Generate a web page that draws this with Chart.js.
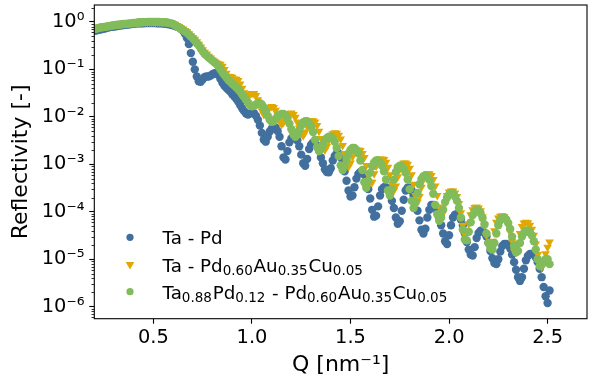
<!DOCTYPE html>
<html>
<head>
<meta charset="utf-8">
<script src="https://cdn.jsdelivr.net/npm/chart.js@4.4.0/dist/chart.umd.min.js"></script>
<style>
  html, body { margin: 0; padding: 0; background: #fff; overflow: hidden; }
  #wrap { width: 589px; height: 386px; overflow: hidden; }
</style>
</head>
<body>
<div id="wrap"><canvas id="xrr" width="592" height="386"></canvas></div>
<script>
// X-ray reflectivity (same Q grid for all samples)
const q = [
  0.20, 0.21, 0.22, 0.23, 0.24, 0.25, 0.26, 0.27, 0.28, 0.29,
  0.30, 0.31, 0.32, 0.33, 0.34, 0.35, 0.36, 0.37, 0.38, 0.39,
  0.40, 0.41, 0.42, 0.43, 0.44, 0.45, 0.46, 0.47, 0.48, 0.49,
  0.50, 0.51, 0.52, 0.53, 0.54, 0.55, 0.56, 0.57, 0.58, 0.59,
  0.60, 0.61, 0.62, 0.63, 0.64, 0.65, 0.66, 0.67, 0.68, 0.69,
  0.70, 0.71, 0.72, 0.73, 0.74, 0.75, 0.76, 0.77, 0.78, 0.79,
  0.80, 0.81, 0.82, 0.83, 0.84, 0.85, 0.86, 0.87, 0.88, 0.89,
  0.90, 0.91, 0.92, 0.93, 0.94, 0.95, 0.96, 0.97, 0.98, 0.99,
  1.00, 1.01, 1.02, 1.03, 1.04, 1.05, 1.06, 1.07, 1.08, 1.09,
  1.10, 1.11, 1.12, 1.13, 1.14, 1.15, 1.16, 1.17, 1.18, 1.19,
  1.20, 1.21, 1.22, 1.23, 1.24, 1.25, 1.26, 1.27, 1.28, 1.29,
  1.30, 1.31, 1.32, 1.33, 1.34, 1.35, 1.36, 1.37, 1.38, 1.39,
  1.40, 1.41, 1.42, 1.43, 1.44, 1.45, 1.46, 1.47, 1.48, 1.49,
  1.50, 1.51, 1.52, 1.53, 1.54, 1.55, 1.56, 1.57, 1.58, 1.59,
  1.60, 1.61, 1.62, 1.63, 1.64, 1.65, 1.66, 1.67, 1.68, 1.69,
  1.70, 1.71, 1.72, 1.73, 1.74, 1.75, 1.76, 1.77, 1.78, 1.79,
  1.80, 1.81, 1.82, 1.83, 1.84, 1.85, 1.86, 1.87, 1.88, 1.89,
  1.90, 1.91, 1.92, 1.93, 1.94, 1.95, 1.96, 1.97, 1.98, 1.99,
  2.00, 2.01, 2.02, 2.03, 2.04, 2.05, 2.06, 2.07, 2.08, 2.09,
  2.10, 2.11, 2.12, 2.13, 2.14, 2.15, 2.16, 2.17, 2.18, 2.19,
  2.20, 2.21, 2.22, 2.23, 2.24, 2.25, 2.26, 2.27, 2.28, 2.29,
  2.30, 2.31, 2.32, 2.33, 2.34, 2.35, 2.36, 2.37, 2.38, 2.39,
  2.40, 2.41, 2.42, 2.43, 2.44, 2.45, 2.46, 2.47, 2.48, 2.49,
  2.50, 2.51
];

// Ta - Pd
const taPd = [
  0.65, 0.66, 0.68, 0.69, 0.71, 0.72, 0.74, 0.76, 0.78, 0.79,
  0.80, 0.81, 0.83, 0.84, 0.85, 0.86, 0.87, 0.88, 0.89, 0.90,
  0.91, 0.92, 0.93, 0.93, 0.94, 0.94, 0.95, 0.95, 0.95, 0.95,
  0.95, 0.95, 0.94, 0.94, 0.93, 0.92, 0.91, 0.90, 0.89, 0.87,
  0.85, 0.82, 0.79, 0.76, 0.71, 0.65, 0.56, 0.46, 0.34, 0.22,
  0.145, 0.100, 0.071, 0.056, 0.055, 0.062, 0.069, 0.071, 0.071, 0.074,
  0.079, 0.083, 0.083, 0.076, 0.063, 0.052, 0.045, 0.041, 0.037, 0.034,
  0.030, 0.027, 0.024, 0.021, 0.0178, 0.0151, 0.0132, 0.0117, 0.0112, 0.0117,
  0.0126, 0.0120, 0.0105, 0.0087, 0.0066, 0.0046, 0.0033, 0.0030, 0.0038, 0.0049,
  0.0056, 0.0060, 0.0060, 0.0050, 0.0038, 0.0024, 0.0014, 0.00126, 0.0019, 0.0029,
  0.0035, 0.0038, 0.0037, 0.0032, 0.0024, 0.0016, 0.00105, 9.3e-4, 1.3e-3, 2.1e-3,
  2.6e-3, 2.9e-3, 2.8e-3, 2.5e-3, 2.0e-3, 1.4e-3, 1.05e-3, 7.9e-4, 6.9e-4, 6.8e-4,
  8.3e-4, 1.2e-3, 1.5e-3, 1.7e-3, 1.7e-3, 1.4e-3, 1.05e-3, 7.1e-4, 4.5e-4, 2.8e-4,
  2.1e-4, 2.2e-4, 3.3e-4, 5.0e-4, 6.3e-4, 6.9e-4, 6.9e-4, 6.0e-4, 4.5e-4, 3.0e-4,
  1.9e-4, 1.1e-4, 7.9e-5, 8.3e-5, 1.3e-4, 2.2e-4, 3.0e-4, 3.3e-4, 3.3e-4, 3.0e-4,
  2.4e-4, 1.7e-4, 1.2e-4, 7.6e-5, 5.6e-5, 6.3e-5, 1.05e-4, 1.8e-4, 2.8e-4, 3.2e-4,
  3.2e-4, 2.8e-4, 2.2e-4, 1.6e-4, 1.05e-4, 6.6e-5, 4.2e-5, 3.5e-5, 4.4e-5, 7.6e-5,
  1.1e-4, 1.4e-4, 1.4e-4, 1.3e-4, 1.05e-4, 7.6e-5, 5.2e-5, 3.5e-5, 2.4e-5, 2.1e-5,
  3.2e-5, 5.2e-5, 7.6e-5, 8.7e-5, 8.9e-5, 8.3e-5, 6.9e-5, 5.2e-5, 3.5e-5, 2.3e-5,
  1.6e-5, 1.26e-5, 1.2e-5, 1.8e-5, 2.8e-5, 3.6e-5, 4.0e-5, 4.0e-5, 3.6e-5, 3.0e-5,
  2.2e-5, 1.5e-5, 1.05e-5, 8.3e-6, 7.9e-6, 1.0e-5, 1.45e-5, 1.9e-5, 2.1e-5, 2.1e-5,
  2.0e-5, 1.7e-5, 1.26e-5, 8.7e-6, 6.0e-6, 4.2e-6, 3.5e-6, 4.2e-6, 6.3e-6, 9.5e-6,
  1.17e-5, 1.3e-5, 1.3e-5, 1.26e-5, 1.1e-5, 8.7e-6, 6.3e-6, 4.2e-6, 2.6e-6, 1.66e-6,
  1.2e-6, 2.2e-6
];

// Ta - Pd0.60Au0.35Cu0.05
const taPdAuCu = [
  0.76, 0.77, 0.78, 0.79, 0.80, 0.81, 0.83, 0.84, 0.85, 0.86,
  0.87, 0.88, 0.89, 0.90, 0.91, 0.92, 0.93, 0.94, 0.95, 0.97,
  0.97, 0.98, 0.98, 0.99, 0.99, 1.0, 1.0, 1.0, 1.0, 1.0,
  1.0, 1.0, 1.0, 1.0, 1.0, 1.0, 0.99, 0.98, 0.97, 0.95,
  0.93, 0.89, 0.83, 0.79, 0.74, 0.71, 0.66, 0.62, 0.56, 0.51,
  0.47, 0.43, 0.38, 0.34, 0.295, 0.26, 0.23, 0.21, 0.19, 0.174,
  0.158, 0.148, 0.138, 0.132, 0.129, 0.117, 0.100, 0.083, 0.072, 0.071,
  0.068, 0.063, 0.062, 0.058, 0.049, 0.040, 0.032, 0.0275, 0.028, 0.030,
  0.031, 0.031, 0.028, 0.023, 0.018, 0.0135, 0.0112, 0.0120, 0.0141, 0.0158,
  0.0166, 0.0158, 0.0138, 0.0110, 0.0083, 0.0069, 0.0076, 0.0093, 0.0110, 0.0117,
  0.0120, 0.0112, 0.0098, 0.0078, 0.0058, 0.0044, 0.0040, 0.0048, 0.0063, 0.0076,
  0.0083, 0.0083, 0.0078, 0.0066, 0.0050, 0.0035, 0.0024, 0.0020, 0.0024, 0.0032,
  0.0039, 0.0044, 0.0046, 0.0045, 0.0041, 0.0034, 0.0025, 0.0017, 1.1e-3, 8.9e-4,
  1.07e-3, 1.45e-3, 1.8e-3, 1.95e-3, 2.0e-3, 1.95e-3, 1.7e-3, 1.4e-3, 9.5e-4, 6.0e-4,
  4.2e-4, 4.2e-4, 6.3e-4, 9.1e-4, 1.15e-3, 1.3e-3, 1.3e-3, 1.26e-3, 1.1e-3, 8.7e-4,
  6.0e-4, 3.8e-4, 2.8e-4, 3.5e-4, 5.5e-4, 7.9e-4, 9.8e-4, 1.07e-3, 1.07e-3, 1.0e-3,
  8.3e-4, 6.0e-4, 3.8e-4, 2.2e-4, 1.6e-4, 2.1e-4, 3.3e-4, 4.8e-4, 5.8e-4, 6.3e-4,
  6.3e-4, 5.8e-4, 4.8e-4, 3.5e-4, 2.2e-4, 1.26e-4, 7.9e-5, 9.5e-5, 1.5e-4, 2.2e-4,
  2.6e-4, 2.75e-4, 2.75e-4, 2.5e-4, 2.1e-4, 1.5e-4, 9.5e-5, 5.2e-5, 3.3e-5, 3.5e-5,
  5.6e-5, 8.7e-5, 1.1e-4, 1.23e-4, 1.26e-4, 1.2e-4, 1.05e-4, 7.9e-5, 5.2e-5, 3.2e-5,
  2.0e-5, 1.66e-5, 2.4e-5, 4.0e-5, 6.0e-5, 7.4e-5, 8.1e-5, 8.3e-5, 7.9e-5, 6.9e-5,
  5.4e-5, 3.7e-5, 2.4e-5, 1.5e-5, 1.4e-5, 2.2e-5, 3.5e-5, 4.9e-5, 5.8e-5, 6.0e-5,
  5.9e-5, 5.2e-5, 4.3e-5, 3.2e-5, 2.1e-5, 1.26e-5, 8.3e-6, 6.9e-6, 8.9e-6, 1.3e-5,
  1.8e-5, 2.3e-5
];

// Ta0.88Pd0.12 - Pd0.60Au0.35Cu0.05
const taPdPdAuCu = [
  0.71, 0.72, 0.74, 0.76, 0.77, 0.785, 0.79, 0.81, 0.82, 0.84,
  0.85, 0.86, 0.87, 0.88, 0.89, 0.90, 0.91, 0.92, 0.93, 0.94,
  0.95, 0.95, 0.97, 0.98, 0.98, 0.99, 0.99, 1.0, 1.0, 1.0,
  1.0, 1.0, 1.0, 1.0, 0.99, 0.98, 0.98, 0.97, 0.95, 0.93,
  0.91, 0.85, 0.79, 0.76, 0.71, 0.68, 0.63, 0.59, 0.54, 0.49,
  0.45, 0.40, 0.355, 0.32, 0.275, 0.24, 0.21, 0.195, 0.178, 0.166,
  0.151, 0.141, 0.129, 0.115, 0.100, 0.087, 0.076, 0.068, 0.060, 0.055,
  0.050, 0.046, 0.042, 0.038, 0.034, 0.030, 0.026, 0.023, 0.020, 0.0178,
  0.0166, 0.0170, 0.0182, 0.0191, 0.0195, 0.0182, 0.0158, 0.0132, 0.0105, 0.0087,
  0.0079, 0.0081, 0.0091, 0.0102, 0.0110, 0.0115, 0.0115, 0.0107, 0.0091, 0.0072,
  0.0055, 0.0043, 0.0038, 0.0042, 0.0052, 0.0066, 0.0076, 0.0081, 0.0081, 0.0074,
  0.0063, 0.0048, 0.0033, 0.0023, 0.0019, 0.0021, 0.0026, 0.0032, 0.0036, 0.0038,
  0.0038, 0.0035, 0.0030, 0.0022, 0.0015, 9.5e-4, 7.6e-4, 9.5e-4, 1.3e-3, 1.7e-3,
  2.0e-3, 2.2e-3, 2.2e-3, 2.0e-3, 1.7e-3, 1.2e-3, 7.6e-4, 4.2e-4, 3.2e-4, 4.5e-4,
  6.6e-4, 9.1e-4, 1.1e-3, 1.2e-3, 1.2e-3, 1.1e-3, 9.3e-4, 7.1e-4, 4.8e-4, 2.8e-4,
  2.2e-4, 3.0e-4, 4.7e-4, 6.9e-4, 8.7e-4, 9.3e-4, 9.1e-4, 8.1e-4, 6.6e-4, 4.8e-4,
  3.0e-4, 1.7e-4, 1.2e-4, 1.6e-4, 2.5e-4, 3.8e-4, 4.9e-4, 5.6e-4, 5.8e-4, 5.5e-4,
  4.7e-4, 3.5e-4, 2.4e-4, 1.4e-4, 8.9e-5, 6.5e-5, 7.6e-5, 1.1e-4, 1.6e-4, 2.0e-4,
  2.3e-4, 2.5e-4, 2.5e-4, 2.1e-4, 1.7e-4, 1.2e-4, 7.6e-5, 4.2e-5, 2.6e-5, 2.5e-5,
  3.8e-5, 6.0e-5, 8.5e-5, 1.0e-4, 1.1e-4, 1.07e-4, 9.3e-5, 7.4e-5, 5.4e-5, 3.5e-5,
  2.2e-5, 1.7e-5, 1.6e-5, 2.2e-5, 3.5e-5, 5.2e-5, 6.6e-5, 7.4e-5, 7.6e-5, 6.9e-5,
  5.8e-5, 4.4e-5, 3.0e-5, 1.9e-5, 1.4e-5, 1.5e-5, 2.2e-5, 3.0e-5, 3.6e-5, 4.0e-5,
  4.0e-5, 3.7e-5, 3.2e-5, 2.4e-5, 1.6e-5, 1.0e-5, 7.2e-6, 7.6e-6, 8.9e-6, 1.0e-5,
  1.0e-5, 7.9e-6
];

const xTicks = [0.5, 1.0, 1.5, 2.0, 2.5];
const yTicks = [1e-6, 1e-5, 1e-4, 1e-3, 1e-2, 1e-1, 1];

const FONT = 'DejaVu Sans';
const BLUE = '#41709f';
const GOLD = '#e0a800';
const GREEN = '#82bc5a';

const SUP = { '0': '⁰', '1': '¹', '2': '²', '3': '³', '4': '⁴', '5': '⁵', '6': '⁶', '7': '⁷', '8': '⁸', '9': '⁹', '-': '⁻' };
function powLabel(v) {
  const e = String(Math.round(Math.log10(v)));
  return '10' + e.split('').map(c => SUP[c]).join('');
}

function pts(arr) {
  return q.map((x, i) => ({ x: x, y: arr[i] }));
}

// legend rows: [text, isSubscript]
const legendRows = [
  { color: BLUE, shape: 'circle', parts: [['Ta - Pd', 0]] },
  { color: GOLD, shape: 'tri', parts: [['Ta - Pd', 0], ['0.60', 1], ['Au', 0], ['0.35', 1], ['Cu', 0], ['0.05', 1]] },
  { color: GREEN, shape: 'circle', parts: [['Ta', 0], ['0.88', 1], ['Pd', 0], ['0.12', 1], [' - Pd', 0], ['0.60', 1], ['Au', 0], ['0.35', 1], ['Cu', 0], ['0.05', 1]] }
];

function marker(ctx, shape, x, y, r) {
  ctx.beginPath();
  if (shape === 'circle') {
    ctx.arc(x, y, r, 0, Math.PI * 2);
  } else {
    let a = Math.PI;
    ctx.moveTo(x + Math.sin(a) * r, y - Math.cos(a) * r);
    a += 2 * Math.PI / 3;
    ctx.lineTo(x + Math.sin(a) * r, y - Math.cos(a) * r);
    a += 2 * Math.PI / 3;
    ctx.lineTo(x + Math.sin(a) * r, y - Math.cos(a) * r);
    ctx.closePath();
  }
  ctx.fill();
}

const framePlugin = {
  id: 'frame',
  afterDatasetsDraw(chart) {
    const ctx = chart.ctx;
    const a = chart.chartArea;
    const ys = chart.scales.y;
    ctx.save();
    ctx.strokeStyle = '#000';
    ctx.lineWidth = 1.1;
    ctx.strokeRect(a.left, a.top, a.right - a.left, a.bottom - a.top);

    // minor log ticks
    ctx.lineWidth = 0.8;
    ctx.beginPath();
    for (let n = -7; n <= 0; n++) {
      for (let k = 2; k <= 9; k++) {
        const v = k * Math.pow(10, n);
        if (v < ys.min || v > ys.max) continue;
        const py = Math.round(ys.getPixelForValue(v)) + 0.5;
        ctx.moveTo(a.left - 2.8, py);
        ctx.lineTo(a.left, py);
      }
    }
    ctx.stroke();

    // legend
    const x0 = 130, tx = 162.5, rowY = [237.3, 264.5, 291.7];
    legendRows.forEach((row, i) => {
      ctx.fillStyle = row.color;
      marker(ctx, row.shape, x0, rowY[i], row.shape === 'tri' ? 5 : 3.6);
      ctx.fillStyle = '#000';
      ctx.textBaseline = 'alphabetic';
      let x = tx;
      const base = rowY[i] + 7;
      row.parts.forEach(([t, sub]) => {
        ctx.font = (sub ? '13.5px ' : '18.3px ') + '"' + FONT + '"';
        ctx.fillText(t, x, sub ? base + 3.5 : base);
        x += ctx.measureText(t).width + (sub ? 0.8 : 0);
      });
    });
    ctx.restore();
  }
};

new Chart(document.getElementById('xrr'), {
  type: 'scatter',
  data: {
    datasets: [
      { label: 'Ta - Pd', data: pts(taPd), backgroundColor: BLUE, pointStyle: 'circle', pointRadius: 4.2, order: 3, clip: 0 },
      { label: 'Ta - Pd0.60Au0.35Cu0.05', data: pts(taPdAuCu), backgroundColor: GOLD, pointStyle: 'triangle', rotation: 180, pointRadius: 5, order: 2, clip: 0 },
      { label: 'Ta0.88Pd0.12 - Pd0.60Au0.35Cu0.05', data: pts(taPdPdAuCu), backgroundColor: GREEN, pointStyle: 'circle', pointRadius: 4.2, order: 1, clip: 0 }
    ]
  },
  options: {
    responsive: false,
    animation: false,
    devicePixelRatio: 1,
    layout: { padding: { top: 3, right: 1, left: 0, bottom: 0 } },
    elements: { point: { borderWidth: 0, hoverRadius: 4 } },
    plugins: { legend: { display: false }, tooltip: { enabled: false } },
    scales: {
      x: {
        type: 'linear',
        min: 0.2,
        max: 2.7,
        afterBuildTicks: s => { s.ticks = xTicks.map(v => ({ value: v })); },
        afterFit: s => { s.height = 67.3; s.paddingLeft = 0; s.paddingRight = 0; },
        border: { display: false },
        grid: { drawOnChartArea: false, drawTicks: true, tickLength: 5, tickColor: '#000', tickWidth: 1.1 },
        ticks: {
          color: '#000', padding: 4.3, autoSkip: false, maxRotation: 0,
          font: { family: FONT, size: 19.4, lineHeight: 1 },
          callback: v => v.toFixed(1)
        },
        title: { display: true, text: 'Q [nm⁻¹]', color: '#000', font: { family: FONT, size: 22 }, padding: { top: 0, bottom: 8 } }
      },
      y: {
        type: 'logarithmic',
        min: 5.6e-7,
        max: 2.27,
        afterBuildTicks: s => { s.ticks = yTicks.map(v => ({ value: v })); },
        afterFit: s => { s.width = 94.3; s.paddingTop = 0; s.paddingBottom = 0; },
        border: { display: false },
        grid: { drawOnChartArea: false, drawTicks: true, tickLength: 5, tickColor: '#000', tickWidth: 1.1 },
        ticks: {
          color: '#000', padding: 4.9, autoSkip: false,
          font: { family: FONT, size: 19.4 },
          callback: v => powLabel(v)
        },
        title: { display: true, text: 'Reflectivity [-]', color: '#000', font: { family: FONT, size: 22 }, padding: { top: 8, bottom: 0 } }
      }
    }
  },
  plugins: [framePlugin]
});
</script>
</body>
</html>
